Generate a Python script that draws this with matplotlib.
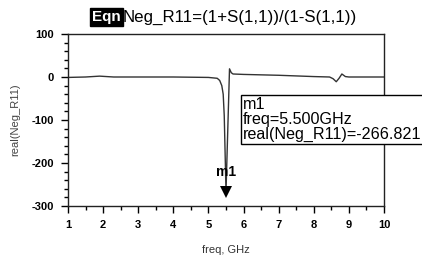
import matplotlib
matplotlib.use("Agg")
import matplotlib.pyplot as plt
from matplotlib.ticker import MultipleLocator

plt.rcParams['font.family'] = ['Liberation Sans', 'DejaVu Sans']

# Data
freq = [1.0, 1.5, 1.9, 2.3, 3.0, 4.0, 5.0, 5.25, 5.32, 5.38, 5.42, 5.45, 5.5,
        5.6, 5.65, 5.7, 6.0, 7.0, 8.0, 8.45, 8.55, 8.64, 8.72, 8.8, 8.9, 9.0, 10.0]
neg_r11 = [-1, 0, 2, 0, 0, 0, -1, -3, -8, -20, -40, -90, -266.821,
           19, 10, 7, 6, 4, 1, 0, -4, -11, -3, 7, 1, 0, 0]
x_ticks = [1, 2, 3, 4, 5, 6, 7, 8, 9, 10]
y_ticks = [-300, -200, -100, 0, 100]
marker_freq = 5.5
marker_val = -266.821

fig = plt.figure(figsize=(4.22, 2.58), dpi=100)
ax = fig.add_axes([68/422, 1-206/258, (384-68)/422, (206-34)/258])

ax.plot(freq, neg_r11, color='#333333', lw=1.0)
ax.set_xlim(1, 10)
ax.set_ylim(-300, 100)
ax.set_xticks(x_ticks)
ax.set_yticks(y_ticks)
ax.set_yticklabels([str(v) for v in y_ticks])
ax.xaxis.set_minor_locator(MultipleLocator(0.5))
ax.yaxis.set_minor_locator(MultipleLocator(20))
ax.tick_params(which='major', direction='out', length=5, width=1, labelsize=8, pad=5)
ax.tick_params(which='minor', direction='out', length=3, width=1)
for lab in ax.get_xticklabels() + ax.get_yticklabels():
    lab.set_fontweight('bold')
for s in ax.spines.values():
    s.set_linewidth(1.0)
    s.set_color('#222222')

ax.set_xlabel('freq, GHz', fontsize=8, labelpad=11, color='#333333')
ax.set_ylabel('real(Neg_R11)', fontsize=8, labelpad=8, color='#444444')

# marker triangle and label
ax.plot([marker_freq], [marker_val], marker='v', markersize=9, color='black',
        markeredgewidth=0, clip_on=False, linestyle='none')
ax.annotate('m1', (marker_freq, marker_val), xytext=(0, 9), textcoords='offset points',
            ha='center', va='bottom', fontsize=10, fontweight='bold')

# marker readout box
fig.text(243/422, 1-97/258,
         'm1\nfreq=%.3fGHz\nreal(Neg_R11)=%.3f' % (marker_freq, marker_val),
         ha='left', va='top', fontsize=11.6, linespacing=0.98,
         bbox=dict(boxstyle='square,pad=0.12', facecolor='white', edgecolor='black', lw=1))

# title
fig.text(92/422, 1-17/258, 'Eqn', ha='left', va='center', fontsize=11, fontweight='bold',
         color='white', bbox=dict(boxstyle='square,pad=0.12', facecolor='black', edgecolor='black'))
fig.text(123/422, 1-17/258, 'Neg_R11=(1+S(1,1))/(1-S(1,1))', ha='left', va='center', fontsize=12.2)

fig.savefig('out.png', dpi=100)
